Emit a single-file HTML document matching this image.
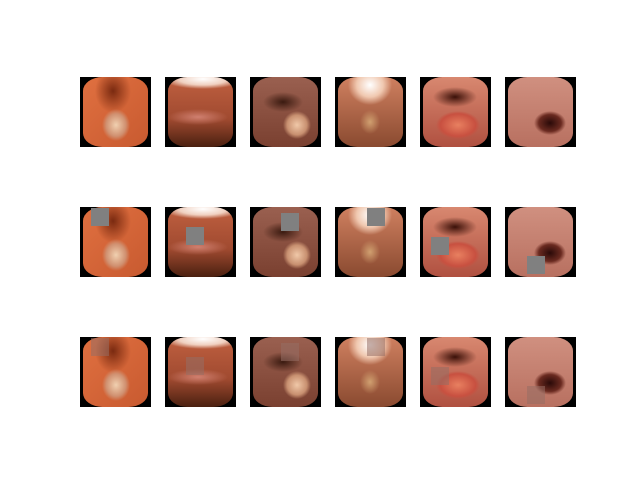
<!DOCTYPE html>
<html><head><meta charset="utf-8"><style>
body{margin:0;background:#fff;width:640px;height:480px;position:relative;overflow:hidden;font-family:"Liberation Sans",sans-serif}
.im{position:absolute;width:71px;height:70px;background:#000;overflow:hidden}
.in{position:absolute;left:3px;top:0;width:65px;height:70px;border-radius:30%/20%}
.sq{position:absolute;width:18px;height:18px;background:#808080}
.sq.f{background:rgba(150,110,100,0.55)}
</style></head><body>
<div id="grid"></div>
<script>
const cols=[80,165,250,335,420,505];
const rows=[77,207,337];
const bgs=[
 "radial-gradient(ellipse 14px 16px at 33px 48px,#f0d0b0,#d09070 70%,transparent 100%),radial-gradient(ellipse 18px 22px at 30px 14px,#7a2a10,transparent 100%),linear-gradient(135deg,#e07040,#c85a30)",
 "radial-gradient(ellipse 40px 10px at 35px 2px,#fff,#f0d0c0 60%,transparent 100%),radial-gradient(ellipse 30px 8px at 30px 40px,#d08070,transparent 100%),linear-gradient(180deg,#c06040,#a04a30 60%,#4a2010)",
 "radial-gradient(ellipse 14px 14px at 44px 48px,#f0c8a8,#c89070 70%,transparent 100%),radial-gradient(ellipse 20px 10px at 30px 25px,#3a1a10,transparent 100%),linear-gradient(180deg,#9a6050,#7a4030)",
 "radial-gradient(ellipse 22px 20px at 32px 8px,#fff,#f0c8b0 60%,transparent 100%),radial-gradient(ellipse 10px 12px at 32px 45px,#d0a070,transparent 100%),linear-gradient(180deg,#d08060,#8a4a30)",
 "radial-gradient(ellipse 22px 14px at 35px 48px,#e88060,#c85040 80%,transparent 100%),radial-gradient(ellipse 22px 10px at 32px 20px,#3a1008,transparent 100%),linear-gradient(180deg,#d88870,#b05040)",
 "radial-gradient(ellipse 16px 12px at 42px 46px,#2a0a08,#6a2a20 70%,transparent 100%),linear-gradient(180deg,#d09080,#b87060)"];
const sqs=[[91,1],[106,20],[116,6],[117,1],[96,30],[107,49]];
const names=["polyp-a","polyp-b","polyp-c","polyp-d","polyp-e","colon-f"];
const g=document.getElementById('grid');
rows.forEach((ry,r)=>cols.forEach((cx,c)=>{
 const d=document.createElement('div');
 d.className='im';
 d.style.left=cx+'px';d.style.top=ry+'px';
 
 
 const i=document.createElement('div');
 i.className='in';i.style.background=bgs[c];
 d.appendChild(i);
 if(r>0){
  const s=document.createElement('div');
  s.className='sq'+(r==2?' f':'');
  s.style.left=(sqs[c][0]-cx+(c*0)+ (cx-80)*0 + (c==0?0:cols[0]-0)*0 + (sqs[c][0]>cx? 0:0))+'px';
  s.style.left=([11,21,31,32,11,22][c])+'px';
  s.style.top=sqs[c][1]+'px';
  
  
  d.appendChild(s);
 }
 g.appendChild(d);
}));
</script>
</body></html>
